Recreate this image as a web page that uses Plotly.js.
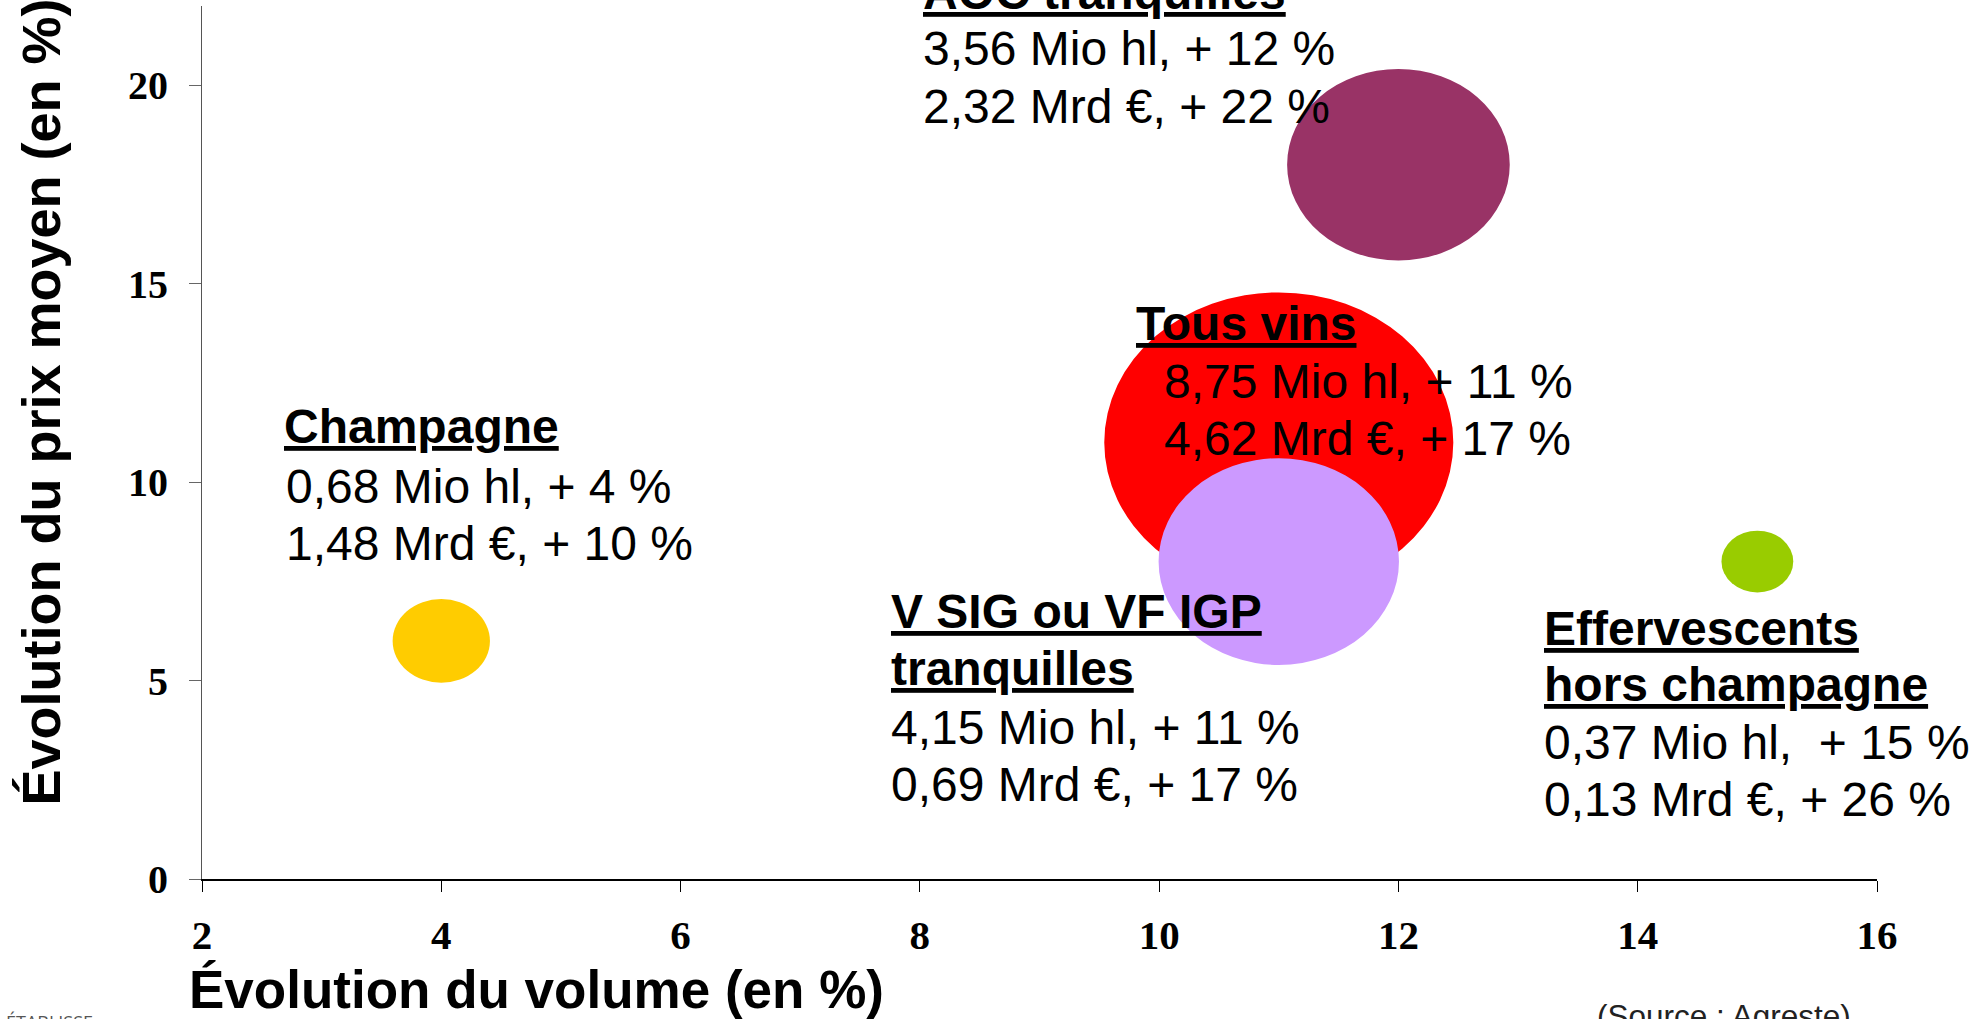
<!DOCTYPE html>
<html>
<head>
<meta charset="utf-8">
<script src="https://cdn.plot.ly/plotly-3.0.1.min.js"></script>
<style>
  html, body { margin: 0; padding: 0; background: #ffffff; overflow: hidden; }
  #chart { width: 1975px; height: 1019px; }
</style>
</head>
<body>
<div id="chart"></div>
<script>
// ---------------- DATA ----------------
const categories   = ["AOC tranquilles", "Tous vins", "V SIG ou VF IGP tranquilles", "Champagne", "Effervescents hors champagne"];
const volumeChange = [12, 11, 11, 4, 15];          // x : Évolution du volume (%)
const priceChange  = [18, 11, 8, 6, 8];            // y : Évolution du prix moyen (%)
const volumeMioHl  = [3.56, 8.75, 4.15, 0.68, 0.37]; // bubble size (Mio hl)
const valueMrdEur  = [2.32, 4.62, 0.69, 1.48, 0.13];
const valueChange  = [22, 17, 17, 10, 26];
const titleLines   = [["AOC tranquilles"], ["Tous vins"], ["V SIG ou VF IGP", "tranquilles"], ["Champagne"], ["Effervescents", "hors champagne"]];
const bubbleColors = ["#993366", "#FF0000", "#CC99FF", "#FFCC00", "#99CC00"];
const xTickVals    = [2, 4, 6, 8, 10, 12, 14, 16];
const yTickVals    = [0, 5, 10, 15, 20];
const xTitle       = "Évolution du volume (en %)";
const yTitle       = "Évolution du prix moyen (en %)";
const sourceText   = "(Source : Agreste)";
const footerText   = "ÉTABLISSE";

// ---------------- LAYOUT GEOMETRY ----------------
const W = 1975, H = 1019;
const PL = 202, PT = 6, PW = 1675, PH = 873;
const X_RANGE = [2, 16], Y_RANGE = [0, 22];
const pxPerX = PW / (X_RANGE[1] - X_RANGE[0]);
const pxPerY = PH / (Y_RANGE[1] - Y_RANGE[0]);
const BUBBLE_DIAM_PX = 118;   // bubble width in px per sqrt(Mio hl)
const BUBBLE_ASPECT  = 0.86;  // bubbles are slightly flattened ellipses

const fmt = v => v.toFixed(2).replace('.', ',');
const ARIAL = "Liberation Sans";
const TIMES = "Liberation Serif";

// label placement (left px, cap-centre px) per category
const labelPos = [
  { tx: 921, ty: [-8],        sx: 921,  sy: [48, 106],  sep: ' ' },
  { tx: 1134, ty: [323],      sx: 1162, sy: [381, 438], sep: ' ' },
  { tx: 889, ty: [611, 668],  sx: 889,  sy: [727, 784], sep: ' ' },
  { tx: 282, ty: [427],       sx: 284,  sy: [486, 543], sep: ' ' },
  { tx: 1542, ty: [628, 684], sx: 1542, sy: [742, 799], sep: '\u00a0 ' }
];

function ann(text, px, py, font, extra) {
  return Object.assign({
    xref: 'paper', yref: 'paper',
    x: (px - PL) / PW, y: (PT + PH - py) / PH,
    xanchor: 'left', yanchor: 'middle',
    showarrow: false, text: text, font: font
  }, extra || {});
}

// ---------------- BUBBLES (ellipses in data coordinates) ----------------
const shapes = categories.map((c, i) => {
  const s = Math.sqrt(volumeMioHl[i]);
  const rx = (BUBBLE_DIAM_PX * s / 2) / pxPerX;
  const ry = (BUBBLE_DIAM_PX * BUBBLE_ASPECT * s / 2) / pxPerY;
  return {
    type: 'circle', xref: 'x', yref: 'y', layer: 'below',
    x0: volumeChange[i] - rx, x1: volumeChange[i] + rx,
    y0: priceChange[i] - ry, y1: priceChange[i] + ry,
    fillcolor: bubbleColors[i], line: { width: 0 }
  };
});

// ---------------- ANNOTATIONS ----------------
const annotations = [];
const titleFont = { family: ARIAL, size: 48, color: '#000', weight: 'bold', lineposition: 'under' };
const statFont  = { family: ARIAL, size: 48, color: '#000' };
categories.forEach((c, i) => {
  const p = labelPos[i];
  titleLines[i].forEach((t, k) => annotations.push(ann(t, p.tx, p.ty[k], titleFont)));
  annotations.push(ann(fmt(volumeMioHl[i]) + ' Mio hl,' + p.sep + '+ ' + volumeChange[i] + ' %', p.sx, p.sy[0], statFont));
  annotations.push(ann(fmt(valueMrdEur[i]) + ' Mrd €, + ' + valueChange[i] + ' %', p.sx, p.sy[1], statFont));
});
// axis titles
annotations.push(ann(xTitle, 187, 989, { family: ARIAL, size: 53, color: '#000', weight: 'bold' }));
annotations.push(ann(yTitle, 40, 808, { family: ARIAL, size: 54, color: '#000', weight: 'bold' },
  { textangle: -90, xanchor: 'center', yanchor: 'bottom' }));
// source & footer
annotations.push(ann(sourceText, 1595, 1016, { family: ARIAL, size: 31.5, color: '#222' }));
annotations.push(ann(footerText, 4, 1022, { family: "Open Sans", size: 18, color: '#555' }));

// ---------------- TRACE (bubble centres, for hover) ----------------
const trace = {
  type: 'scatter', mode: 'markers',
  x: volumeChange, y: priceChange,
  text: categories,
  marker: { size: 1, color: bubbleColors, opacity: 0 },
  hovertemplate: '%{text}<br>Volume : %{x} %<br>Prix : %{y} %<extra></extra>',
  showlegend: false
};

const layout = {
  width: W, height: H, autosize: false,
  margin: { l: PL, r: W - PL - PW, t: PT, b: H - PT - PH, pad: 0 },
  paper_bgcolor: '#ffffff', plot_bgcolor: '#ffffff',
  showlegend: false,
  xaxis: {
    range: X_RANGE, tickvals: xTickVals, ticktext: xTickVals.map(String),
    ticks: 'outside', ticklen: 11, tickcolor: '#000', tickwidth: 1,
    showline: true, linecolor: '#000', linewidth: 1.5,
    showgrid: false, zeroline: false, fixedrange: true,
    tickfont: { family: TIMES, size: 41, color: '#000', weight: 'bold' },
    ticklabelstandoff: 8
  },
  yaxis: {
    range: Y_RANGE, tickvals: yTickVals, ticktext: yTickVals.map(String),
    ticks: 'outside', ticklen: 12, tickcolor: '#666', tickwidth: 1,
    showline: true, linecolor: '#555', linewidth: 1,
    showgrid: false, zeroline: false, fixedrange: true,
    tickfont: { family: TIMES, size: 40, color: '#000', weight: 'bold' },
    ticklabelstandoff: 13
  },
  shapes: shapes,
  annotations: annotations
};

Plotly.newPlot('chart', [trace], layout, { displayModeBar: false, staticPlot: true });
</script>
</body>
</html>
